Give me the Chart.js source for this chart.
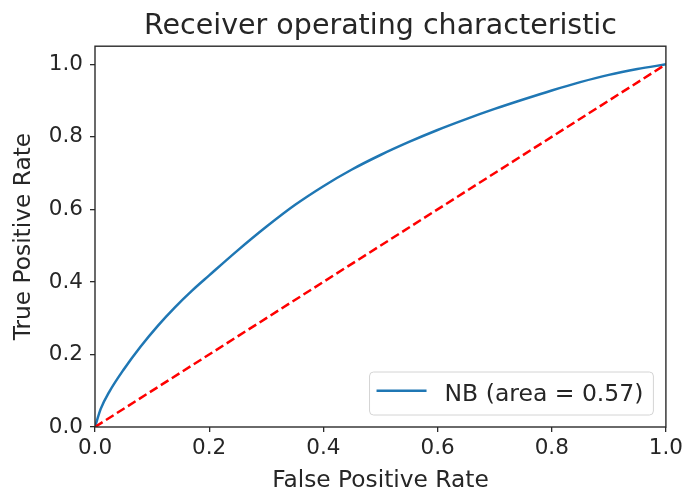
<!DOCTYPE html>
<html>
<head>
<meta charset="utf-8">
<script src="https://cdn.jsdelivr.net/npm/chart.js@4.4.1/dist/chart.umd.min.js"></script>
<style>
  html, body { margin: 0; padding: 0; background: #ffffff; }
  canvas { display: block; }
</style>
</head>
<body>
<canvas id="roc" width="687" height="495"></canvas>
<script>
// ROC curve points for the Naive Bayes classifier
const fpr = [0, 0.01, 0.025, 0.05, 0.08, 0.11, 0.14, 0.17, 0.2, 0.25, 0.3, 0.35, 0.4,
             0.45, 0.5, 0.55, 0.6, 0.65, 0.7, 0.75, 0.8, 0.85, 0.9, 0.95, 1.0];
const tpr = [0, 0.05, 0.097, 0.158, 0.222, 0.279, 0.33, 0.376, 0.418, 0.487, 0.552, 0.612, 0.664,
             0.71, 0.75, 0.786, 0.819, 0.849, 0.877, 0.903, 0.928, 0.951, 0.971, 0.987, 1.0];

// chance diagonal
const chanceX = [0, 1];
const chanceY = [0, 1];

const xTicks = [0, 0.2, 0.4, 0.6, 0.8, 1.0];
const yTicks = [0, 0.2, 0.4, 0.6, 0.8, 1.0];

const seriesLabel = 'NB (area = 0.57)';
const titleText = 'Receiver operating characteristic';
const xLabel = 'False Positive Rate';
const yLabel = 'True Positive Rate';

const FONT = "'DejaVu Sans', sans-serif";
const INK = '#262626';
const SPINE = '#2b2b2b';

const toPoints = (xs, ys) => xs.map((x, i) => ({ x: x, y: ys[i] }));

// box around the plotting area (all four sides)
const frame = {
  id: 'frame',
  afterDatasetsDraw(chart) {
    const { ctx, chartArea: a } = chart;
    ctx.save();
    ctx.strokeStyle = SPINE;
    ctx.lineWidth = 1.4;
    ctx.strokeRect(a.left, a.top, a.right - a.left, a.bottom - a.top);
    ctx.restore();
  }
};

// legend box in the lower right corner of the plotting area
const legendBox = {
  id: 'legendBox',
  afterDraw(chart) {
    const { ctx, chartArea: a } = chart;
    const ds = chart.data.datasets.find(d => d.label === seriesLabel);
    ctx.save();
    ctx.font = `23.5px ${FONT}`;
    const tw = ctx.measureText(ds.label).width;
    const w = 7 + 50 + 18 + tw + 10;
    const h = 43;
    const x = a.right - 12.5 - w;
    const y = a.bottom - 12 - h;
    ctx.beginPath();
    ctx.roundRect(x, y, w, h, 4);
    ctx.fillStyle = 'rgba(255,255,255,0.8)';
    ctx.fill();
    ctx.strokeStyle = '#d4d4d4';
    ctx.lineWidth = 1;
    ctx.stroke();
    ctx.beginPath();
    ctx.moveTo(x + 7, y + 18.7);
    ctx.lineTo(x + 57, y + 18.7);
    ctx.strokeStyle = ds.borderColor;
    ctx.lineWidth = ds.borderWidth;
    ctx.stroke();
    ctx.fillStyle = INK;
    ctx.textBaseline = 'middle';
    ctx.textAlign = 'left';
    ctx.fillText(ds.label, x + 75, y + h / 2 + 1);
    ctx.restore();
  }
};

new Chart(document.getElementById('roc'), {
  type: 'scatter',
  data: {
    datasets: [
      {
        label: 'chance',
        data: toPoints(chanceX, chanceY),
        showLine: true,
        borderColor: '#ff0000',
        borderWidth: 2.5,
        borderDash: [9, 4],
        pointRadius: 0,
        fill: false
      },
      {
        label: seriesLabel,
        data: toPoints(fpr, tpr),
        showLine: true,
        borderColor: '#1f77b4',
        borderWidth: 2.5,
        pointRadius: 0,
        cubicInterpolationMode: 'monotone',
        fill: false
      }
    ]
  },
  options: {
    responsive: false,
    animation: false,
    devicePixelRatio: 1,
    layout: { padding: { left: 0, right: 20.5, top: 0, bottom: 0 } },
    plugins: {
      legend: { display: false },
      tooltip: { enabled: false },
      title: {
        display: true,
        fullSize: false,
        text: titleText,
        color: INK,
        font: { family: FONT, size: 28.5, weight: 'normal', lineHeight: 1.2 },
        padding: { top: 9, bottom: 3 }
      }
    },
    scales: {
      x: {
        type: 'linear',
        min: 0,
        max: 1,
        afterFit(s) { s.height = 68; },
        afterBuildTicks(s) { s.ticks = xTicks.map(v => ({ value: v })); },
        ticks: {
          color: INK,
          font: { family: FONT, size: 21.5 },
          padding: 4,
          maxRotation: 0,
          autoSkip: false,
          callback: v => Number(v).toFixed(1)
        },
        grid: { drawOnChartArea: false, drawTicks: true, tickLength: 5, color: SPINE, lineWidth: 1.3 },
        border: { display: false },
        title: {
          display: true,
          text: xLabel,
          color: INK,
          font: { family: FONT, size: 23.3, lineHeight: 1 },
          padding: { top: 0, bottom: 2 }
        }
      },
      y: {
        type: 'linear',
        min: 0,
        max: 1.05,
        afterFit(s) { s.width = 95; },
        afterBuildTicks(s) { s.ticks = yTicks.map(v => ({ value: v })); },
        ticks: {
          color: INK,
          font: { family: FONT, size: 21.5 },
          padding: 7,
          autoSkip: false,
          callback: v => Number(v).toFixed(1)
        },
        grid: { drawOnChartArea: false, drawTicks: true, tickLength: 5, color: SPINE, lineWidth: 1.3 },
        border: { display: false },
        title: {
          display: true,
          text: yLabel,
          color: INK,
          font: { family: FONT, size: 23.3, lineHeight: 1 },
          padding: { top: 12.5, bottom: 0 }
        }
      }
    }
  },
  plugins: [frame, legendBox]
});
</script>
</body>
</html>
